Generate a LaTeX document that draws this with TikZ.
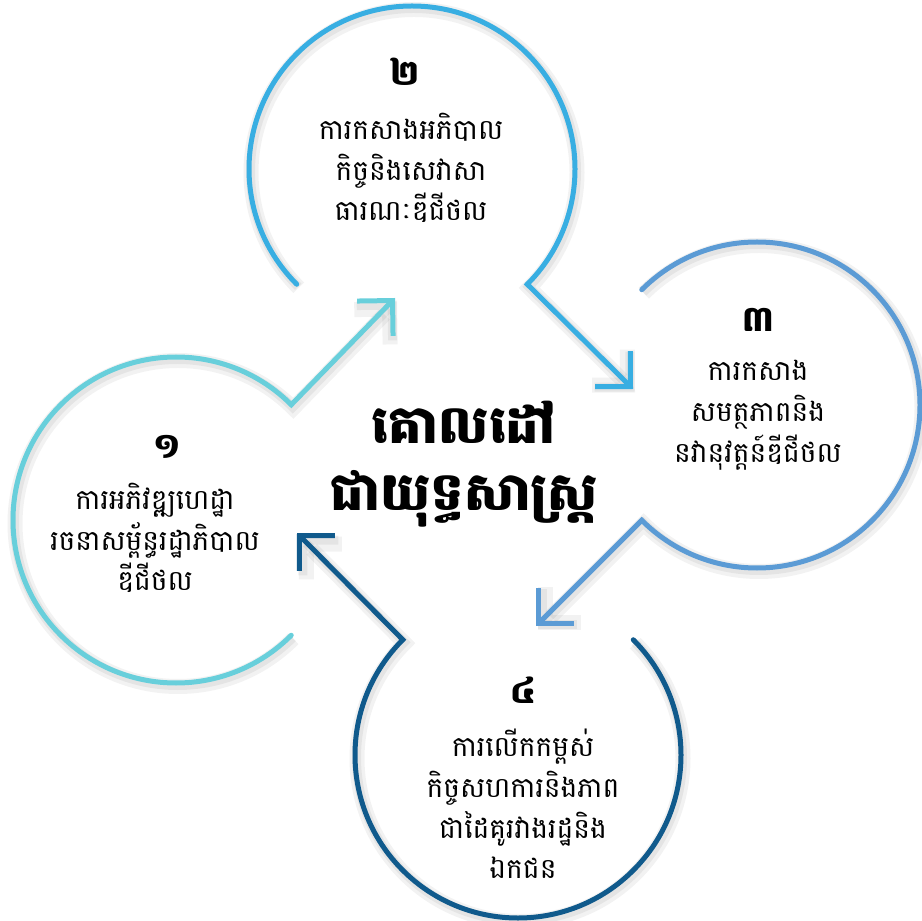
\documentclass[tikz,border=0pt]{standalone}
\usepackage{fontspec}
\usepackage{tikz}
\usetikzlibrary{positioning,calc,arrows.meta}
\newfontfamily\khmerfont[Script=Khmer]{Battambang}
\definecolor{ringone}{RGB}{104,207,219}
\definecolor{ringtwo}{RGB}{56,174,226}
\definecolor{ringthree}{RGB}{91,155,213}
\definecolor{ringfour}{RGB}{16,90,140}
\tikzset{
    ring/.style={line width=0.1cm, line cap=round, line join=miter,
        -{Straight Barb[sharp,length=0.5cm,width=1cm]},
        preaction={draw=black, draw opacity=0.05, line width=0.3cm,
            transform canvas={shift={(0.04cm,-0.07cm)}}},
        preaction={draw=black, draw opacity=0.06, line width=0.18cm,
            transform canvas={shift={(0.03cm,-0.05cm)}}}},
    ringnum/.style={font=\khmerfont\bfseries\fontsize{20}{24}\selectfont},
    ringtext/.style={align=center, font=\khmerfont\fontsize{16}{23.2}\selectfont},
    goaltext/.style={align=center, font=\khmerfont\bfseries\fontsize{30}{38.5}\selectfont}
}
\begin{document}
\begin{tikzpicture}[x=0.02cm,y=0.02cm]
    \useasboundingbox (0,0) rectangle (922,920);
    % centres of the rings
    \coordinate (c1) at (176,400);
    \coordinate (c2) at (412,751);
    \coordinate (c3) at (757,515);
    \coordinate (c4) at (518,165);
    % where the arrows point
    \coordinate (t1) at (395,622);
    \coordinate (t2) at (633,531);
    \coordinate (t3) at (536,294);
    \coordinate (t4) at (297,387);
    % rings with their arrows
    \draw[ring, ringone] ($(c1)+(-45:163)$) arc[start angle=-45, end angle=-315, radius=163] -- (t1);
    \draw[ring, ringtwo] ($(c2)+(225:163)$) arc[start angle=225, end angle=-45, radius=163] -- (t2);
    \draw[ring, ringthree] ($(c3)+(135:163)$) arc[start angle=135, end angle=-135, radius=163] -- (t3);
    \draw[ring, ringfour] ($(c4)+(45:163)$) arc[start angle=45, end angle=-225, radius=163] -- (t4);
    % centre title
    \node[goaltext] (goal) at (464,456) {គោលដៅ\\ជាយុទ្ធសាស្ត្រ};
    % ring 1
    \node[ringnum] (num1) at (167,473) {១};
    \node[ringtext] (txt1) at (155,382) {ការអភិវឌ្ឍហេដ្ឋា\\រចនាសម្ព័ន្ធរដ្ឋាភិបាល\\ឌីជីថល};
    % ring 2
    \node[ringnum] (num2) at (405,848) {២};
    \node[ringtext] (txt2) at (411,752) {ការកសាងអភិបាល\\កិច្ចនិងសេវាសា\\ធារណៈឌីជីថល};
    % ring 3
    \node[ringnum] (num3) at (758,600) {៣};
    \node[ringtext] (txt3) at (758,505) {ការកសាង\\សមត្ថភាពនិង\\នវានុវត្តន៍ឌីជីថល};
    % ring 4
    \node[ringnum] (num4) at (523,230) {៤};
    \node[ringtext] (txt4) at (523,116) {ការលើកកម្ពស់\\កិច្ចសហការនិងភាព\\ជាដៃគូរវាងរដ្ឋនិង\\ឯកជន};
\end{tikzpicture}
\end{document}
